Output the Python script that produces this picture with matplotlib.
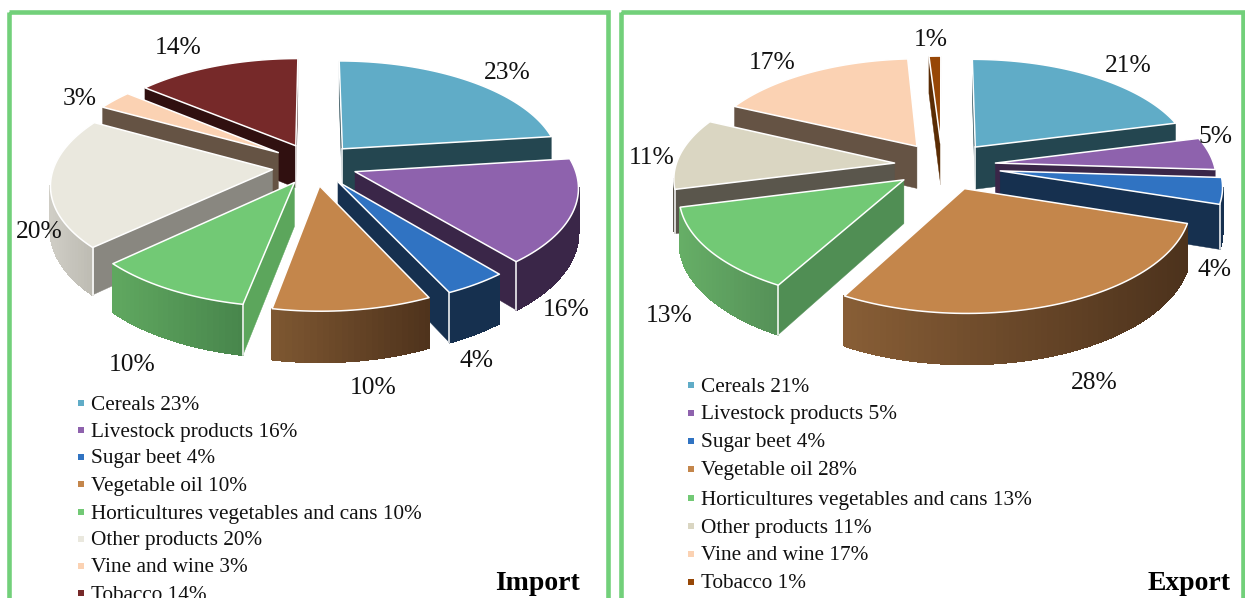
import numpy as np
from matplotlib import pyplot as plt
from matplotlib.colors import to_rgb
from matplotlib.patches import Rectangle

categories = ['Cereals', 'Livestock products', 'Sugar beet', 'Vegetable oil',
              'Horticultures vegetables and cans', 'Other products',
              'Vine and wine', 'Tobacco']
import_values = [23, 16, 4, 10, 10, 20, 3, 14]
export_values = [21, 5, 4, 28, 13, 11, 17, 1]

top_colors = ['#60ACC7', '#8E62AD', '#3073C2', '#C4864B',
              '#72C975', '#EAE8DE', '#FBD2B3', '#762929']
export_top_colors = ['#60ACC7', '#8E62AD', '#3073C2', '#C4864B',
                     '#72C975', '#DAD6C2', '#FBD2B3', '#974706']
# wall colours: arc left, arc right, radial
import_walls = [('#244650', '#244650', '#244650'),
                ('#3A2648', '#3A2648', '#3A2648'),
                ('#16304F', '#16304F', '#16304F'),
                ('#7F5832', '#4F331C', '#4F331C'),
                ('#60A860', '#48864C', '#5CA65C'),
                ('#CFCDC5', '#BDBBB2', '#898780'),
                ('#655344', '#655344', '#655344'),
                ('#301010', '#301010', '#301010')]
export_walls = [('#244650', '#244650', '#244650'),
                ('#3A2648', '#3A2648', '#3A2648'),
                ('#16304F', '#16304F', '#16304F'),
                ('#885E36', '#4C321C', '#4C321C'),
                ('#66AE66', '#559158', '#508E54'),
                ('#5A564C', '#5A564C', '#5A564C'),
                ('#655344', '#655344', '#655344'),
                ('#5A2C04', '#5A2C04', '#5A2C04')]

# pie geometry, pixels
EXPLODE = 0.2
PERSPECTIVE = 0.13
SCALE_X = 218.6
SCALE_Y = 103.0
DEPTH = 43.0
import_centre = (314, 164)
export_centre = (949, 163)
import_nudge = [(0, 0), (0, 0), (0, 0), (0, 1), (2, 0), (2, 3), (0, 0), (0, 0)]
export_nudge = [(0, 0), (3, 2), (8, 4), (-1, 6), (-10, 4), (-11, 2), (-8, 0), (-7, 0)]

import_label_xy = [(507, 73), (566, 310), (477, 361), (373, 388),
                   (132, 365), (39, 232), (80, 99), (178, 48)]
export_label_xy = [(1128, 66), (1216, 137), (1215, 270), (1094, 383),
                   (669, 316), (652, 158), (772, 63), (931, 40)]
import_legend_y = [405, 432, 459, 486, 514, 541, 568, 595]
export_legend_y = [387, 415, 443, 471, 500, 528, 556, 584]

plt.rcParams['font.family'] = ['Liberation Serif', 'DejaVu Serif']
GREEN = '#72D07A'
TEXT = '#111111'


def project(px, py, centre, nudge):
    w = 1 + PERSPECTIVE * py
    x = centre[0] + nudge[0] + SCALE_X * px / w
    y = centre[1] + nudge[1] - SCALE_Y * py / w
    return x, y, y + DEPTH / w


def facing(px, py, nx, ny):
    # True when a vertical wall with outward normal (nx, ny) faces the camera
    return px * nx + (py + 1 / PERSPECTIVE) * ny < 0


def draw_pie(ax, values, tops, walls, centre, nudges):
    total = float(sum(values))
    stops = np.cumsum([0] + list(values)) / total * 2 * np.pi
    slices = []
    for i in range(len(values)):
        a0, a1 = stops[i], stops[i + 1]
        mid = (a0 + a1) / 2
        tx, ty = EXPLODE * np.sin(mid), EXPLODE * np.cos(mid)
        n = int(np.degrees(a1 - a0) / 1.5) + 3
        angles = np.linspace(a0, a1, n)
        px, py = tx + np.sin(angles), ty + np.cos(angles)
        x, y, low = project(px, py, centre, nudges[i])
        tip = project(tx, ty, centre, nudges[i])
        slices.append(dict(i=i, a0=a0, a1=a1, tx=tx, ty=ty, angles=angles, px=px, py=py,
                           x=x, y=y, low=low, tip=tip, key=np.mean(y)))

    z = 10
    for s in sorted(slices, key=lambda d: d['key']):
        i = s['i']
        x, y, low, tip = s['x'], s['y'], s['low'], s['tip']
        arc_l, arc_r, radial = walls[i]
        arc_l, arc_r = np.array(to_rgb(arc_l)), np.array(to_rgb(arc_r))

        # radial walls
        start_vis = facing(s['tx'], s['ty'], -np.cos(s['a0']), np.sin(s['a0']))
        end_vis = facing(s['tx'], s['ty'], np.cos(s['a1']), -np.sin(s['a1']))
        if start_vis:
            ax.fill([tip[0], x[0], x[0], tip[0]], [tip[1], y[0], low[0], tip[2]],
                    color=radial, lw=0.3, zorder=z)
        if end_vis:
            ax.fill([tip[0], x[-1], x[-1], tip[0]], [tip[1], y[-1], low[-1], tip[2]],
                    color=radial, lw=0.3, zorder=z)
        z += 1

        # outer wall as short facets so that it can carry a gradient
        mids = (s['angles'][:-1] + s['angles'][1:]) / 2
        vis = [facing(np.mean(s['px'][j:j + 2]), np.mean(s['py'][j:j + 2]),
                      np.sin(mids[j]), np.cos(mids[j])) for j in range(len(mids))]
        for j in range(len(mids)):
            if not vis[j]:
                continue
            t = (x[j] - x.min()) / max(x.max() - x.min(), 1)
            c = arc_l + (arc_r - arc_l) * t
            ax.fill([x[j], x[j + 1], x[j + 1], x[j]], [y[j], y[j + 1], low[j + 1], low[j]],
                    color=c, lw=0.8, antialiased=False, zorder=z)
        z += 1

        # white corners between walls
        if start_vis and vis[0]:
            ax.plot([x[0], x[0]], [y[0], low[0]], color='white', lw=1.1, zorder=z)
        if end_vis and vis[-1]:
            ax.plot([x[-1], x[-1]], [y[-1], low[-1]], color='white', lw=1.1, zorder=z)
        if start_vis and end_vis:
            ax.plot([tip[0], tip[0]], [tip[1], tip[2]], color='white', lw=1.1, zorder=z)

        ax.fill(np.r_[tip[0], x], np.r_[tip[1], y], facecolor=tops[i], edgecolor='white',
                lw=1.1, joinstyle='round', zorder=z + 1)
        z += 2


def draw_labels(ax, values, label_xy):
    for v, (lx, ly) in zip(values, label_xy):
        ax.text(lx, ly, '{}%'.format(v), ha='center', va='center', fontsize=18.4,
                color=TEXT, zorder=100)


def draw_legend(ax, values, colors, x_mark, x_text, ys):
    for name, v, c, ly in zip(categories, values, colors, ys):
        ax.plot([x_mark], [ly - 2], marker='s', ms=3.8, mew=0, color=c, zorder=100)
        ax.text(x_text, ly, '{} {}%'.format(name, v), ha='left', va='center',
                fontsize=15.3, color=TEXT, zorder=100)


fig = plt.figure(figsize=(12.45, 5.98), dpi=100)
ax = fig.add_axes([0, 0, 1, 1])
ax.set_xlim(0, 1245)
ax.set_ylim(598, 0)
ax.axis('off')

ax.add_patch(Rectangle((8.5, 12), 599, 620, fill=False, ec=GREEN, lw=3.3, zorder=1))
ax.add_patch(Rectangle((620.5, 12), 622.5, 620, fill=False, ec=GREEN, lw=3.3, zorder=1))

draw_pie(ax, import_values, top_colors, import_walls, import_centre, import_nudge)
draw_pie(ax, export_values, export_top_colors, export_walls, export_centre, export_nudge)

draw_labels(ax, import_values, import_label_xy)
draw_labels(ax, export_values, export_label_xy)
draw_legend(ax, import_values, top_colors, 81, 91, import_legend_y)
draw_legend(ax, export_values, export_top_colors, 691, 701, export_legend_y)

ax.text(537, 583, 'Import', ha='center', va='center', fontsize=20, fontweight='bold',
        color='black', zorder=100)
ax.text(1189, 583, 'Export', ha='center', va='center', fontsize=20, fontweight='bold',
        color='black', zorder=100)

fig.savefig('out.png', dpi=100)
